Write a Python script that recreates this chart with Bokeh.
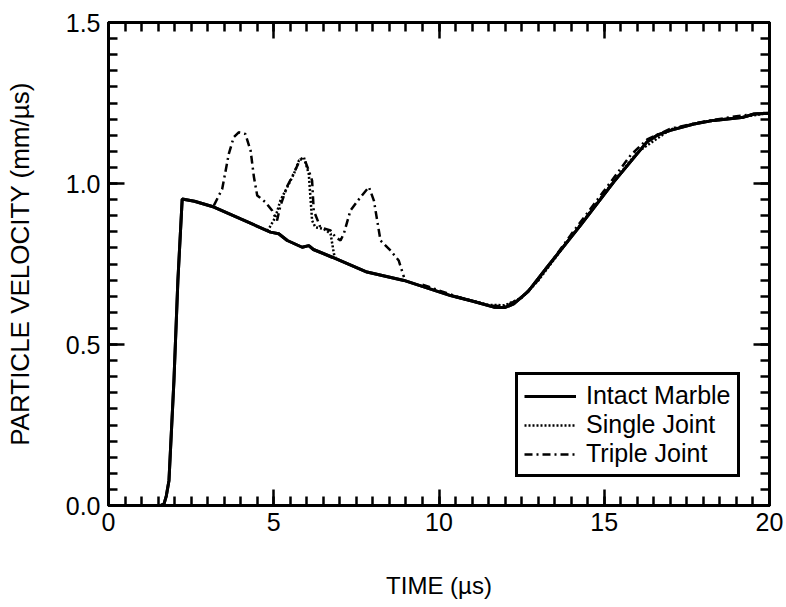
from bokeh.plotting import figure
from bokeh.models import (Range1d, LinearAxis, SingleIntervalTicker, Legend, LegendItem,
                          CustomJSTickFormatter, NumeralTickFormatter)
from bokeh.embed import file_html
from bokeh.resources import INLINE

# ---- data ----
t_intact = [0, 1.57, 1.68, 1.75, 1.83, 1.98, 2.10, 2.23, 2.60, 3.19, 4.00, 4.90, 5.15, 5.41,
            5.86, 6.06, 6.20, 6.77, 7.82, 8.94, 10.35, 11.00, 11.66, 12.00, 12.26, 12.70,
            13.27, 14.28, 15.29, 16.30, 16.60, 17.00, 17.71, 18.31, 19.22, 19.53, 20.00]
v_intact = [0, 0, 0.005, 0.03, 0.078, 0.388, 0.70, 0.952, 0.945, 0.927, 0.890, 0.849, 0.844, 0.823,
            0.802, 0.807, 0.795, 0.771, 0.725, 0.699, 0.652, 0.635, 0.616, 0.615, 0.626, 0.665,
            0.740, 0.870, 1.005, 1.130, 1.150, 1.165, 1.185, 1.196, 1.206, 1.216, 1.218]

t_single = [4.80, 4.85, 5.05, 5.20, 5.41, 5.61, 5.76, 5.91, 6.06, 6.11, 6.16, 6.26, 6.51, 6.72,
            6.82, 6.87]
v_single = [0.853, 0.859, 0.895, 0.947, 0.989, 1.030, 1.071, 1.082, 1.030, 0.957, 0.885, 0.864,
            0.859, 0.844, 0.782, 0.771]
t_single_late = [10.50, 11.50, 12.00, 12.50, 13.00, 14.00, 15.00, 16.00, 17.00, 18.00, 19.00, 20.00]
v_single_late = [0.648, 0.623, 0.622, 0.645, 0.698, 0.835, 0.970, 1.097, 1.168, 1.191, 1.204, 1.219]

t_triple = [3.19, 3.44, 3.64, 3.79, 3.94, 4.14, 4.30, 4.40, 4.50, 4.75, 4.95, 5.05, 5.10, 5.20,
            5.40, 5.60, 5.80, 5.95, 6.06, 6.16, 6.21, 6.41, 6.72, 6.87, 7.02, 7.12, 7.32, 7.62,
            7.88, 8.03, 8.13, 8.23, 8.53, 8.78, 8.94]
v_triple = [0.932, 0.983, 1.092, 1.144, 1.159, 1.154, 1.102, 1.020, 0.963, 0.942, 0.916, 0.895,
            0.885, 0.930, 0.990, 1.030, 1.075, 1.070, 1.040, 1.009, 0.916, 0.864, 0.854, 0.833,
            0.823, 0.844, 0.916, 0.957, 0.989, 0.947, 0.885, 0.823, 0.792, 0.761, 0.709]
t_triple_late = [9.50, 10.50, 11.50, 12.00, 12.50, 13.00, 14.00, 15.00, 15.80, 16.30, 17.00,
                 18.00, 19.00, 20.00]
v_triple_late = [0.686, 0.650, 0.621, 0.619, 0.645, 0.700, 0.842, 0.978, 1.088, 1.137, 1.170,
                 1.192, 1.209, 1.221]

x_ticks_interval = 5
y_ticks_interval = 0.5

FONT = "Liberation Sans"

p = figure(width=786, height=607, output_backend="svg", toolbar_location=None,
           x_range=Range1d(0, 20), y_range=Range1d(0, 1.5),
           min_border_left=108, min_border_right=17, min_border_top=22, min_border_bottom=102)
p.xgrid.visible = False
p.ygrid.visible = False
p.outline_line_color = "black"
p.outline_line_width = 3
p.background_fill_color = "white"
p.border_fill_color = "white"

r_int = p.line(t_intact, v_intact, line_color="black", line_width=3)
r_sin = p.line(t_single, v_single, line_color="black", line_width=2.5, line_dash="2 2")
p.line(t_single_late, v_single_late, line_color="black", line_width=2.5, line_dash="2 2")
r_tri = p.line(t_triple, v_triple, line_color="black", line_width=2.5, line_dash="8 4 2 4")
p.line(t_triple_late, v_triple_late, line_color="black", line_width=2.5, line_dash="8 4 2 4")
# intact on top
p.line(t_intact, v_intact, line_color="black", line_width=3)


def style(ax, labels=True):
    ax.axis_line_width = 3
    ax.major_tick_in = 16
    ax.major_tick_out = 0
    ax.minor_tick_in = 9
    ax.minor_tick_out = 0
    ax.major_tick_line_width = 2.5
    ax.minor_tick_line_width = 2.5
    ax.major_label_text_font = FONT
    ax.major_label_text_font_size = "25px"
    ax.major_label_text_color = "black"
    ax.axis_label_text_font = FONT
    ax.axis_label_text_font_size = "24px"
    ax.axis_label_text_font_style = "normal"
    ax.axis_label_text_color = "black"
    if not labels:
        ax.formatter = CustomJSTickFormatter(code="return ''")
        ax.major_label_standoff = 0


xb = p.xaxis[0]
xb.ticker = SingleIntervalTicker(interval=x_ticks_interval, num_minor_ticks=10)
xb.axis_label = "TIME (µs)"
style(xb)
xb.major_label_standoff = 7
xb.axis_label_standoff = 38

yl = p.yaxis[0]
yl.ticker = SingleIntervalTicker(interval=y_ticks_interval, num_minor_ticks=10)
yl.formatter = NumeralTickFormatter(format="0.0")
yl.axis_label = "PARTICLE VELOCITY (mm/µs)"
style(yl)
yl.axis_label_text_font_size = "26px"
yl.major_label_standoff = 8
yl.axis_label_standoff = 28

xt = LinearAxis(ticker=SingleIntervalTicker(interval=x_ticks_interval, num_minor_ticks=10))
style(xt, labels=False)
p.add_layout(xt, "above")
yr = LinearAxis(ticker=SingleIntervalTicker(interval=y_ticks_interval, num_minor_ticks=10))
style(yr, labels=False)
p.add_layout(yr, "right")

legend = Legend(items=[LegendItem(label="Intact Marble", renderers=[r_int]),
                       LegendItem(label="Single Joint", renderers=[r_sin]),
                       LegendItem(label="Triple Joint", renderers=[r_tri])],
                location=(407, 28))
legend.border_line_color = "black"
legend.border_line_alpha = 1
legend.border_line_width = 3
legend.background_fill_color = "white"
legend.background_fill_alpha = 1
legend.label_text_font = FONT
legend.label_text_font_size = "25px"
legend.label_text_line_height = 0.95
legend.label_text_color = "black"
legend.glyph_width = 52
legend.glyph_height = 18
legend.label_height = 20
legend.spacing = 0
legend.padding = 6
legend.margin = 0
legend.label_standoff = 10
p.add_layout(legend)

open("out.html", "w").write(file_html(p, INLINE))
